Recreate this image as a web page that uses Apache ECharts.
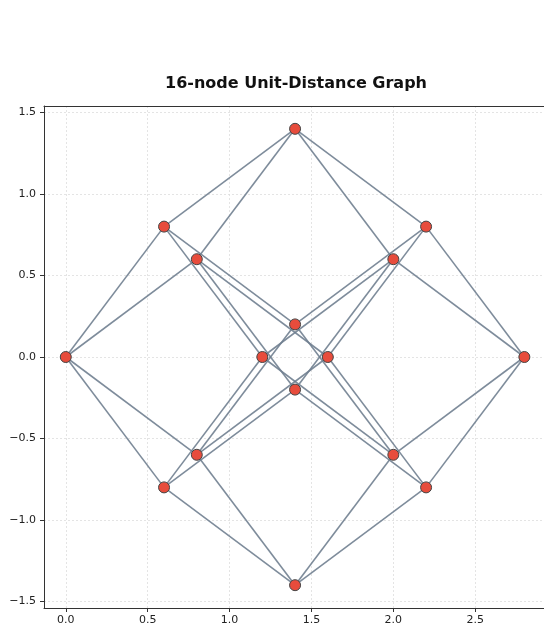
<!DOCTYPE html>
<html>
<head>
<meta charset="utf-8">
<script src="https://cdn.jsdelivr.net/npm/echarts@6/dist/echarts.min.js"></script>
<style>
  html, body { margin: 0; padding: 0; background: #fff; }
  #main { width: 544px; height: 629px; }
</style>
</head>
<body>
<div id="main"></div>
<script>
// node coordinates
const nodeX = [0.0, 0.6, 0.8, 1.4, 2.2, 2.0, 2.8, 1.4, 1.2, 1.6, 1.4, 0.8, 0.6, 1.4, 2.0, 2.2];
const nodeY = [0.0, 0.8, 0.6, 1.4, 0.8, 0.6, 0.0, 0.2, 0.0, 0.0, -0.2, -0.6, -0.8, -1.4, -0.6, -0.8];
// unit-length edges (node index pairs)
const edges = [
    [0, 1], [0, 2], [0, 11], [0, 12],
    [3, 1], [3, 2], [3, 4], [3, 5],
    [6, 4], [6, 5], [6, 14], [6, 15],
    [13, 11], [13, 12], [13, 14], [13, 15],
    [1, 7], [1, 8], [2, 9], [2, 10],
    [4, 7], [4, 9], [5, 8], [5, 10],
    [11, 7], [11, 9], [12, 8], [12, 10],
    [14, 8], [14, 7], [15, 9], [15, 10],
];
const xTicks = [0.0, 0.5, 1.0, 1.5, 2.0, 2.5];
const yTicks = [-1.5, -1.0, -0.5, 0.0, 0.5, 1.0, 1.5];

const chart = echarts.init(document.getElementById('main'));

const fmt = (v) => v.toFixed(1).replace('-', '\u2212');

const axisCommon = {
    type: 'value',
    axisLine: { show: true, onZero: false, lineStyle: { color: '#333', width: 1 } },
    axisTick: { show: true, length: 4, lineStyle: { color: '#333' } },
    axisLabel: { color: '#222', fontSize: 11, fontFamily: 'DejaVu Sans', formatter: fmt },
    splitLine: { show: true, lineStyle: { color: '#ddd', type: [2, 2], width: 0.8 } },
};

const option = {
    animation: false,
    title: {
        text: '16-node Unit-Distance Graph',
        left: 291,
        top: 71,
        textAlign: 'center',
        textStyle: { fontFamily: 'DejaVu Sans', fontWeight: 'bold', fontSize: 16, color: '#111' },
    },
    grid: {
        left: 44, top: 106, right: 0, height: 502,
        show: false,
    },
    xAxis: [{
        ...axisCommon,
        min: -0.133, max: 2.92,
        axisTick: { ...axisCommon.axisTick, customValues: xTicks },
        axisLabel: { ...axisCommon.axisLabel, customValues: xTicks, margin: 7 },
    }, {
        type: 'value',
        position: 'top',
        min: -0.133, max: 2.92,
        axisLine: { show: true, onZero: false, lineStyle: { color: '#333', width: 1 } },
        axisTick: { show: false },
        axisLabel: { show: false },
        splitLine: { show: false },
    }],
    yAxis: {
        ...axisCommon,
        min: -1.54, max: 1.54,
        axisTick: { ...axisCommon.axisTick, customValues: yTicks },
        axisLabel: { ...axisCommon.axisLabel, customValues: yTicks, margin: 8 },
    },
    series: [{
        type: 'graph',
        coordinateSystem: 'cartesian2d',
        symbol: 'circle',
        symbolSize: 11,
        itemStyle: { color: '#e74c3c', borderColor: '#444', borderWidth: 1 },
        lineStyle: { color: '#708090', width: 1.6, opacity: 0.9 },
        label: { show: false },
        data: nodeX.map((x, i) => [x, nodeY[i]]),
        links: edges.map(([s, t]) => ({ source: s, target: t })),
        z: 3,
    }],
};
chart.setOption(option);
</script>
</body>
</html>
